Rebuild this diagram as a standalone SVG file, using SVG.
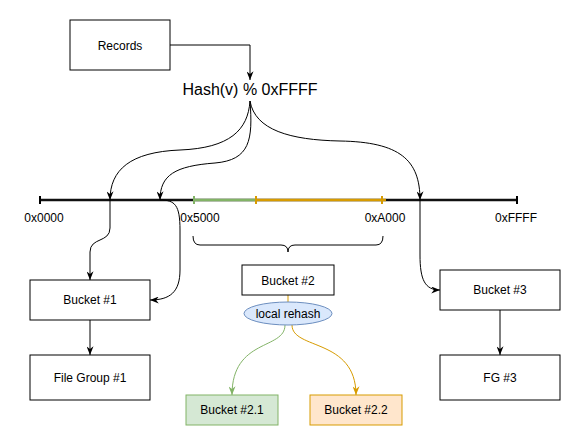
<svg xmlns="http://www.w3.org/2000/svg" width="581" height="446" viewBox="0 0 581 446">
<style>
text{font-family:"Liberation Sans",Arial,Helvetica,sans-serif;font-size:12px;fill:#000;text-anchor:middle}
.box{fill:#fff;stroke:#000;stroke-width:1}
.e{fill:none;stroke:#000;stroke-width:1}
.g{fill:none;stroke:#82b366;stroke-width:1}
.o{fill:none;stroke:#d79b00;stroke-width:1}
</style>
<defs>
<marker id="ak" viewBox="0 0 10 8" refX="10" refY="4" markerWidth="9" markerHeight="7" orient="auto" markerUnits="userSpaceOnUse"><path d="M0,0 L10,4 L0,8 L3,4 Z" fill="#000"/></marker>
<marker id="ag" viewBox="0 0 10 8" refX="10" refY="4" markerWidth="9" markerHeight="7" orient="auto" markerUnits="userSpaceOnUse"><path d="M0,0 L10,4 L0,8 L3,4 Z" fill="#82b366"/></marker>
<marker id="ao" viewBox="0 0 10 8" refX="10" refY="4" markerWidth="9" markerHeight="7" orient="auto" markerUnits="userSpaceOnUse"><path d="M0,0 L10,4 L0,8 L3,4 Z" fill="#d79b00"/></marker>
</defs>
<rect width="581" height="446" fill="#fff"/>
<g id="axis">
<line x1="40" y1="200" x2="517" y2="200" stroke="#111" stroke-width="2.4"/>
<line x1="194" y1="200" x2="256" y2="200" stroke="#82b366" stroke-width="2.4"/>
<line x1="256" y1="200" x2="386" y2="200" stroke="#d79b00" stroke-width="2.4"/>
<line x1="40" y1="196" x2="40" y2="204" stroke="#000" stroke-width="2"/>
<line x1="517" y1="196" x2="517" y2="204" stroke="#000" stroke-width="2"/>
<line x1="194" y1="196" x2="194" y2="204" stroke="#82b366" stroke-width="2"/>
<line x1="256" y1="196" x2="256" y2="204" stroke="#d79b00" stroke-width="2"/>
<line x1="382" y1="196" x2="382" y2="204" stroke="#d79b00" stroke-width="2"/>
<text x="44" y="222">0x0000</text>
<text x="200" y="222">0x5000</text>
<text x="385" y="222">0xA000</text>
<text x="516" y="222">0xFFFF</text>
<path d="M193,236 Q193,245 200,245 L281,245 Q288,245 288,252 Q288,245 295,245 L376,245 Q383,245 383,236" fill="none" stroke="#000" stroke-width="1"/>
</g>
<g id="connectors">
<path class="e" d="M170,45 L250,45 L250,80" marker-end="url(#ak)"/>
<path class="e" d="M250,101 C248,130 230,148 180,150 C130,152 110,170 110,200" marker-end="url(#ak)"/>
<path class="e" d="M250,101 C253,140 250,160 215,163 C175,166 160,175 160,200" marker-end="url(#ak)"/>
<path class="e" d="M250,101 C255,130 290,140 340,141 C400,142 420,160 420,200" marker-end="url(#ak)"/>
<path class="e" d="M110,200 L110,228 C110,243 90,237 90,252 L90,280" marker-end="url(#ak)"/>
<path class="e" d="M160,200 C175,200 180,205 180,230 L180,270 C180,292 170,300 150,300" marker-end="url(#ak)"/>
<path class="e" d="M420,200 L420,255 C420,280 425,290 440,290" marker-end="url(#ak)"/>
<path class="e" d="M90,320 L90,355" marker-end="url(#ak)"/>
<path class="e" d="M500,310 L500,355" marker-end="url(#ak)"/>
<path class="o" d="M288,295 L288,302"/>
<path class="g" d="M285,325 C285,350 232,338 232,395" marker-end="url(#ag)"/>
<path class="o" d="M292,325 C292,350 356,338 356,395" marker-end="url(#ao)"/>
</g>
<g id="records"><rect class="box" x="70" y="20" width="100" height="50"/><text x="120" y="50">Records</text></g>
<g id="hash"><text x="250" y="95" style="font-size:16px">Hash(v) % 0xFFFF</text></g>
<g id="bucket1"><rect class="box" x="30" y="280" width="120" height="40"/><text x="90" y="304">Bucket #1</text></g>
<g id="filegroup1"><rect class="box" x="30" y="355" width="120" height="45"/><text x="90" y="382">File Group #1</text></g>
<g id="bucket2"><rect class="box" x="242" y="265" width="92" height="30"/><text x="288" y="285">Bucket #2</text></g>
<g id="rehash"><ellipse cx="288" cy="313.5" rx="44" ry="11.5" fill="#dae8fc" stroke="#6c8ebf" stroke-width="1"/><text x="288" y="318">local rehash</text></g>
<g id="bucket21"><rect x="186" y="395" width="92" height="30" fill="#d5e8d4" stroke="#82b366" stroke-width="1"/><text x="232" y="414">Bucket #2.1</text></g>
<g id="bucket22"><rect x="310" y="395" width="92" height="30" fill="#ffe6cc" stroke="#d79b00" stroke-width="1"/><text x="356" y="414">Bucket #2.2</text></g>
<g id="bucket3"><rect class="box" x="440" y="270" width="120" height="40"/><text x="500" y="294">Bucket #3</text></g>
<g id="fg3"><rect class="box" x="440" y="355" width="120" height="45"/><text x="500" y="382">FG #3</text></g>
</svg>
